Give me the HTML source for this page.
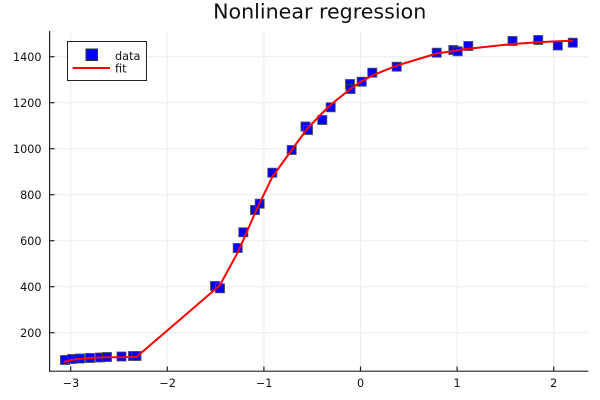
<!DOCTYPE html>
<html>
<head>
<meta charset="utf-8">
<style>
  html,body{margin:0;padding:0;background:#fff;}
  svg{display:block;}
  text{font-family:"DejaVu Sans","Liberation Sans",sans-serif;fill:#111;}
</style>
</head>
<body>
<svg width="600" height="400" viewBox="0 0 600 400" xmlns="http://www.w3.org/2000/svg">
  <rect x="0" y="0" width="600" height="400" fill="#fff"/>
  <!-- title -->
  <text x="319.7" y="18.3" font-size="20.6" text-anchor="middle">Nonlinear regression</text>

  <!-- grid -->
  <g stroke="#ebebeb" stroke-width="1">
    <line x1="70.7" y1="31" x2="70.7" y2="371"/>
    <line x1="167.3" y1="31" x2="167.3" y2="371"/>
    <line x1="263.9" y1="31" x2="263.9" y2="371"/>
    <line x1="360.5" y1="31" x2="360.5" y2="371"/>
    <line x1="457.1" y1="31" x2="457.1" y2="371"/>
    <line x1="553.7" y1="31" x2="553.7" y2="371"/>
    <line x1="50" y1="332.7" x2="588" y2="332.7"/>
    <line x1="50" y1="286.7" x2="588" y2="286.7"/>
    <line x1="50" y1="240.7" x2="588" y2="240.7"/>
    <line x1="50" y1="194.7" x2="588" y2="194.7"/>
    <line x1="50" y1="148.7" x2="588" y2="148.7"/>
    <line x1="50" y1="102.7" x2="588" y2="102.7"/>
    <line x1="50" y1="56.7" x2="588" y2="56.7"/>
  </g>

  <!-- axes -->
  <g stroke="#222" stroke-width="1.2">
    <line x1="49.6" y1="31" x2="49.6" y2="371.2"/>
    <line x1="49" y1="371.2" x2="588.3" y2="371.2"/>
    <!-- x ticks -->
    <line x1="70.7" y1="371" x2="70.7" y2="366.5"/>
    <line x1="167.3" y1="371" x2="167.3" y2="366.5"/>
    <line x1="263.9" y1="371" x2="263.9" y2="366.5"/>
    <line x1="360.5" y1="371" x2="360.5" y2="366.5"/>
    <line x1="457.1" y1="371" x2="457.1" y2="366.5"/>
    <line x1="553.7" y1="371" x2="553.7" y2="366.5"/>
    <!-- y ticks -->
    <line x1="50" y1="332.7" x2="54.5" y2="332.7"/>
    <line x1="50" y1="286.7" x2="54.5" y2="286.7"/>
    <line x1="50" y1="240.7" x2="54.5" y2="240.7"/>
    <line x1="50" y1="194.7" x2="54.5" y2="194.7"/>
    <line x1="50" y1="148.7" x2="54.5" y2="148.7"/>
    <line x1="50" y1="102.7" x2="54.5" y2="102.7"/>
    <line x1="50" y1="56.7" x2="54.5" y2="56.7"/>
  </g>

  <!-- tick labels -->
  <g font-size="11.2" text-anchor="middle">
    <text x="71" y="387">−3</text>
    <text x="167.6" y="387">−2</text>
    <text x="264.2" y="387">−1</text>
    <text x="360.5" y="387">0</text>
    <text x="457.1" y="387">1</text>
    <text x="553.7" y="387">2</text>
  </g>
  <g font-size="11.2" text-anchor="end">
    <text x="41.5" y="336.8">200</text>
    <text x="41.5" y="290.8">400</text>
    <text x="41.5" y="244.8">600</text>
    <text x="41.5" y="198.8">800</text>
    <text x="41.5" y="152.8">1000</text>
    <text x="41.5" y="106.8">1200</text>
    <text x="41.5" y="60.8">1400</text>
  </g>

  <!-- data markers -->
  <g fill="#0000ff" stroke="#4a4a4a" stroke-width="1" stroke-opacity="0.8">
    <rect x="60.5" y="355.5" width="9" height="9"/>
    <rect x="67.5" y="354.5" width="9" height="9"/>
    <rect x="75.5" y="354" width="9" height="9"/>
    <rect x="85.5" y="353.5" width="9" height="9"/>
    <rect x="95.5" y="353" width="9" height="9"/>
    <rect x="102.5" y="352.5" width="9" height="9"/>
    <rect x="117" y="352" width="9" height="9"/>
    <rect x="128.5" y="351.5" width="9" height="9"/>
    <rect x="132" y="351.5" width="9" height="9"/>
    <rect x="210.5" y="281.5" width="9" height="9"/>
    <rect x="215.5" y="283.8" width="9" height="9"/>
    <rect x="233.2" y="243.5" width="9" height="9"/>
    <rect x="238.8" y="227.8" width="9" height="9"/>
    <rect x="250.5" y="205.5" width="9" height="9"/>
    <rect x="255.2" y="199.2" width="9" height="9"/>
    <rect x="267.8" y="168.2" width="9" height="9"/>
    <rect x="287.2" y="145.5" width="9" height="9"/>
    <rect x="301" y="122" width="9" height="9"/>
    <rect x="303.5" y="125.5" width="9" height="9"/>
    <rect x="317.8" y="115.5" width="9" height="9"/>
    <rect x="326.2" y="102.8" width="9" height="9"/>
    <rect x="345.5" y="79.5" width="9" height="9"/>
    <rect x="346" y="84.5" width="9" height="9"/>
    <rect x="357.2" y="77.2" width="9" height="9"/>
    <rect x="367.8" y="68.2" width="9" height="9"/>
    <rect x="392.2" y="62.2" width="9" height="9"/>
    <rect x="432.2" y="48.2" width="9" height="9"/>
    <rect x="448.8" y="45.5" width="9" height="9"/>
    <rect x="453.2" y="46.8" width="9" height="9"/>
    <rect x="463.8" y="41.5" width="9" height="9"/>
    <rect x="508" y="36.5" width="9" height="9"/>
    <rect x="533.7" y="35.5" width="9" height="9"/>
    <rect x="553.3" y="41" width="9" height="9"/>
    <rect x="568.3" y="38.2" width="9" height="9"/>
  </g>

  <!-- fit line -->
  <polyline fill="none" stroke="#ff0000" stroke-width="2" stroke-linejoin="round"
    points="63.5,362 72,360 77,359.2 90,358 100,357.5 107,357.3 121.5,357.2 133,357 136.7,356.8 215,289.5 220,285 237.7,252.5 243.3,240 255,213 259.7,203 272.3,177 291.7,150 307,129 322.3,113 331,104.5 350.3,89 361.3,81.5 372.3,75.5 397,65.5 436.7,53.5 453.3,51 457.7,50.3 468.3,48.7 512.3,44 538,42.3 558,41.3 573,40.7"/>

  <!-- legend -->
  <rect x="67.5" y="41.5" width="79" height="39" fill="#fff" stroke="#222" stroke-width="1"/>
  <rect x="86" y="49" width="11.5" height="11.5" fill="#0000ff" stroke="#333" stroke-width="1"/>
  <line x1="72.7" y1="68" x2="110" y2="68" stroke="#ff0000" stroke-width="2"/>
  <text x="115" y="60" font-size="11.3">data</text>
  <text x="115" y="72.5" font-size="11.3">fit</text>
</svg>
</body>
</html>
